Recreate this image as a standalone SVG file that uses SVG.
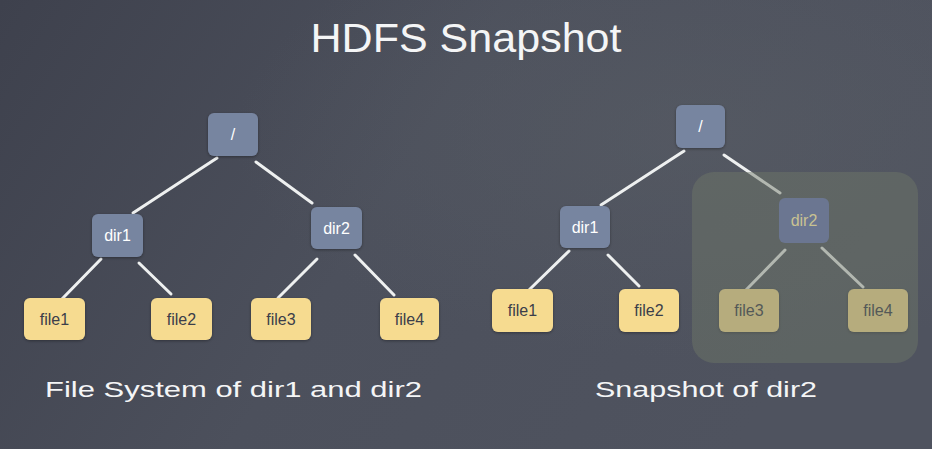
<svg xmlns="http://www.w3.org/2000/svg" width="932" height="449" viewBox="0 0 932 449">
<defs>
<linearGradient id="bg" x1="0" y1="0" x2="1" y2="0.3">
<stop offset="0" stop-color="#3e414d"/>
<stop offset="0.5" stop-color="#4c505c"/>
<stop offset="1" stop-color="#4f535f"/>
</linearGradient>
<radialGradient id="spot" cx="0.75" cy="0.3" r="0.5">
<stop offset="0" stop-color="#5a5f66" stop-opacity="0.5"/>
<stop offset="1" stop-color="#5a5f66" stop-opacity="0"/>
</radialGradient>
<filter id="sh" x="-20%" y="-20%" width="140%" height="140%">
<feDropShadow dx="0" dy="1" stdDeviation="1.5" flood-color="#000" flood-opacity="0.35"/>
</filter>
</defs>
<style>
.dir{fill:#7785a0;filter:url(#sh)}
.file{fill:#f6db90;filter:url(#sh)}
.dt{font-family:"Liberation Sans",sans-serif;font-size:16px;fill:#ffffff;text-anchor:middle}
.ft{font-family:"Liberation Sans",sans-serif;font-size:16px;fill:#3b3e4a;text-anchor:middle}
.edge{stroke:#eef0f0;stroke-width:3;stroke-linecap:round;fill:none}
.cap{font-family:"Liberation Sans",sans-serif;fill:#f4f5f6}
</style>
<rect width="932" height="449" fill="url(#bg)"/>
<rect width="932" height="449" fill="url(#spot)"/>
<text class="cap" x="466" y="52" font-size="40" text-anchor="middle" textLength="311" lengthAdjust="spacingAndGlyphs">HDFS Snapshot</text>
<g id="connectors">
<line class="edge" x1="217" y1="158" x2="133" y2="213"/>
<line class="edge" x1="256" y1="162" x2="312" y2="203"/>
<line class="edge" x1="101" y1="259" x2="62" y2="299"/>
<line class="edge" x1="139" y1="263" x2="171" y2="294"/>
<line class="edge" x1="317" y1="259" x2="278" y2="298"/>
<line class="edge" x1="355" y1="255" x2="394" y2="295"/>
<line class="edge" x1="684" y1="151" x2="601" y2="205"/>
<line class="edge" x1="724" y1="155" x2="780" y2="193"/>
<line class="edge" x1="569" y1="251" x2="529" y2="290"/>
<line class="edge" x1="608" y1="255" x2="639" y2="286"/>
<line class="edge" x1="785" y1="250" x2="746" y2="290"/>
<line class="edge" x1="822" y1="248" x2="863" y2="287"/>
</g>
<g id="l-root"><rect class="dir" x="208" y="113" width="50" height="43" rx="6"/><text class="dt" x="233" y="140">/</text></g>
<g id="l-dir1"><rect class="dir" x="92" y="214" width="51" height="43" rx="6"/><text class="dt" x="117.5" y="241">dir1</text></g>
<g id="l-dir2"><rect class="dir" x="311" y="207" width="51" height="42" rx="6"/><text class="dt" x="336.5" y="234">dir2</text></g>
<g id="l-file1"><rect class="file" x="24" y="298" width="61" height="42" rx="6"/><text class="ft" x="54.5" y="325">file1</text></g>
<g id="l-file2"><rect class="file" x="151" y="298" width="61" height="42" rx="6"/><text class="ft" x="181.5" y="325">file2</text></g>
<g id="l-file3"><rect class="file" x="251" y="298" width="60" height="42" rx="6"/><text class="ft" x="281" y="325">file3</text></g>
<g id="l-file4"><rect class="file" x="380" y="298" width="59" height="42" rx="6"/><text class="ft" x="409.5" y="325">file4</text></g>
<g id="r-root"><rect class="dir" x="676" y="105" width="49" height="43" rx="6"/><text class="dt" x="700.5" y="132">/</text></g>
<g id="r-dir1"><rect class="dir" x="560" y="206" width="50" height="42" rx="6"/><text class="dt" x="585" y="233">dir1</text></g>
<g id="r-file1"><rect class="file" x="492" y="289" width="61" height="43" rx="6"/><text class="ft" x="522.5" y="316">file1</text></g>
<g id="r-file2"><rect class="file" x="619" y="289" width="60" height="43" rx="6"/><text class="ft" x="649" y="316">file2</text></g>
<g id="r-file3"><rect class="file" x="719" y="289" width="60" height="43" rx="6"/><text class="ft" x="749" y="316">file3</text></g>
<g id="r-file4"><rect class="file" x="848" y="289" width="60" height="43" rx="6"/><text class="ft" x="878" y="316">file4</text></g>
<g id="snapshot-highlight"><rect x="692" y="172" width="226" height="191" rx="22" fill="#6f7668" fill-opacity="0.47"/></g>
<g id="r-dir2"><rect x="779" y="198" width="50" height="45" rx="6" fill="#6b7691"/><text class="dt" x="804" y="226" fill="#c9c291" style="fill:#c9c291">dir2</text></g>
<text class="cap" x="45" y="397" font-size="22" textLength="377" lengthAdjust="spacingAndGlyphs">File System of dir1 and dir2</text>
<text class="cap" x="595" y="397" font-size="22" textLength="222" lengthAdjust="spacingAndGlyphs">Snapshot of dir2</text>
</svg>
